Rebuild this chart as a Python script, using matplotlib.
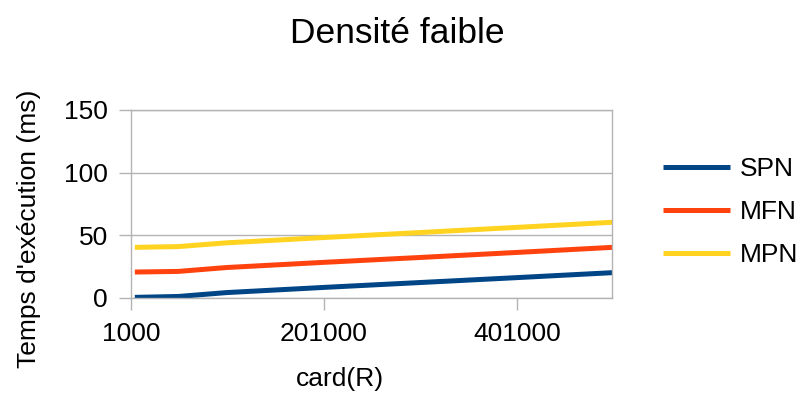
import matplotlib
matplotlib.use('Agg')
import matplotlib.pyplot as plt

plt.rcParams['font.family'] = ['Liberation Sans', 'DejaVu Sans']

# data
card_r = [5000, 50000, 100000, 200000, 300000, 400000, 500000]
spn = [0.5, 1.2, 4.3, 8.4, 12.3, 16.2, 20.2]
mfn = [20.7, 21.2, 24.3, 28.4, 32.3, 36.3, 40.4]
mpn = [40.4, 41.0, 44.0, 48.2, 52.2, 56.3, 60.4]
x_ticks = [1000, 201000, 401000]
y_ticks = [0, 50, 100, 150]

grey = '#b3b3b3'

fig = plt.figure(figsize=(8.03, 4.01), dpi=100)
ax = fig.add_axes([0.1631, 0.2569, 0.5994, 0.4688])

lw = 3.6
ax.plot(card_r, spn, color='#004586', lw=lw, label='SPN', solid_capstyle='butt')
ax.plot(card_r, mfn, color='#ff420e', lw=lw, label='MFN', solid_capstyle='butt')
ax.plot(card_r, mpn, color='#ffd320', lw=lw, label='MPN', solid_capstyle='butt')

ax.set_xlim(1000, 500000)
ax.set_ylim(0, 150)
ax.set_xticks(x_ticks)
ax.set_xticklabels([str(v) for v in x_ticks])
ax.set_yticks(y_ticks)

ax.yaxis.grid(True, color=grey, lw=1)
ax.set_axisbelow(True)
for s in ax.spines.values():
    s.set_color(grey)
    s.set_linewidth(1)

ax.tick_params(axis='both', colors=grey, labelcolor='black', labelsize=19,
               length=8.6, width=1)
ax.tick_params(axis='x', pad=9)
ax.tick_params(axis='y', pad=8)

fig.text(397 / 803, 1 - 43 / 401, 'Densité faible', fontsize=25.5,
         ha='center', va='baseline')
ax.set_xlabel('card(R)', fontsize=19)
ax.set_ylabel("Temps d'exécution (ms)", fontsize=19)
ax.xaxis.set_label_coords(0.4345, -0.365)
ax.yaxis.set_label_coords(-0.187, 0.367)

fig.legend(loc='center left', bbox_to_anchor=(663 / 803, 0.471), frameon=False,
           fontsize=19, handlelength=2.55, handletextpad=0.36, labelspacing=0.72,
           borderpad=0, borderaxespad=0)

fig.savefig('out.png', dpi=100)
